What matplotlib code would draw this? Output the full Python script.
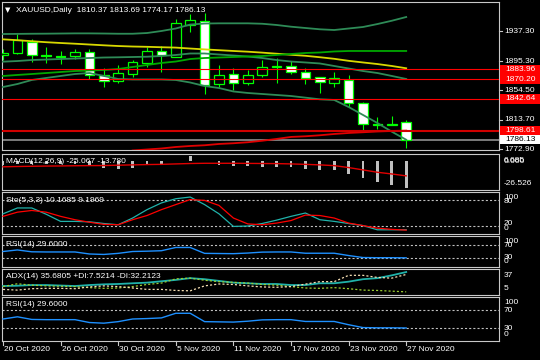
import matplotlib
matplotlib.use("Agg")
import matplotlib.pyplot as plt
from matplotlib.patches import Rectangle
from matplotlib.lines import Line2D
import numpy as np

plt.rcParams['font.family'] = ['Liberation Sans', 'DejaVu Sans']
plt.rcParams['lines.scale_dashes'] = False

W, H = 540, 360
FS = 6

# ---- data (daily XAUUSD, 20 Oct - 27 Nov 2020) ----
date_labels = ["20 Oct 2020", "26 Oct 2020", "30 Oct 2020", "5 Nov 2020",
               "11 Nov 2020", "17 Nov 2020", "23 Nov 2020", "27 Nov 2020"]
date_idx = [0, 4, 8, 12, 16, 20, 24, 28]

opens = [1903.9, 1906.7, 1922.0, 1903.9, 1902.5, 1902.5, 1908.1, 1876.1, 1867.7, 1877.4,
         1892.8, 1909.5, 1901.1, 1945.7, 1951.2, 1863.5, 1877.4, 1864.9, 1876.1, 1887.2,
         1888.6, 1880.2, 1873.3, 1864.9, 1869.1, 1837.1, 1807.8, 1807.0, 1810.37]
highs = [1912.2, 1933.1, 1926.2, 1915.0, 1909.5, 1912.2, 1912.2, 1885.8, 1890.0, 1896.9,
         1915.0, 1916.4, 1954.0, 1961.0, 1962.4, 1890.0, 1885.8, 1883.0, 1896.9, 1899.7,
         1895.5, 1885.8, 1873.5, 1880.2, 1876.1, 1838.5, 1817.2, 1819.0, 1813.69]
lows = [1896.9, 1905.3, 1894.1, 1892.8, 1891.4, 1898.3, 1870.5, 1859.3, 1864.9, 1873.3,
        1887.2, 1880.2, 1901.1, 1935.9, 1849.6, 1859.3, 1855.2, 1862.1, 1873.3, 1864.9,
        1877.4, 1863.5, 1851.0, 1859.3, 1831.5, 1799.5, 1800.4, 1806.4, 1774.17]
closes = [1906.7, 1924.8, 1903.9, 1902.5, 1901.8, 1908.1, 1876.1, 1867.7, 1878.8, 1894.1,
          1909.5, 1903.9, 1948.4, 1952.6, 1862.1, 1876.1, 1864.9, 1876.1, 1887.2, 1888.0,
          1880.2, 1871.9, 1866.3, 1871.9, 1837.1, 1807.8, 1807.0, 1808.0, 1786.13]

bb_upper = [1933.1, 1933.3, 1933.5, 1933.6, 1933.8, 1934.0, 1934.0, 1933.8, 1933.5, 1933.5,
            1934.5, 1937.3, 1940.8, 1946.3, 1947.7, 1948.0, 1948.0, 1948.0, 1947.4, 1945.7,
            1943.3, 1941.5, 1939.7, 1938.7, 1940.8, 1942.9, 1947.0, 1951.6, 1956.8]
bb_mid = [1894.6, 1895.5, 1896.9, 1897.6, 1898.3, 1899.0, 1899.7, 1900.4, 1900.7, 1901.1,
          1901.5, 1902.5, 1903.9, 1906.0, 1906.0, 1904.6, 1903.2, 1901.8, 1899.7, 1896.9,
          1894.8, 1893.5, 1892.1, 1888.6, 1885.1, 1881.6, 1878.8, 1874.7, 1870.5]
bb_lower = [1859.3, 1863.5, 1869.1, 1871.9, 1874.7, 1877.4, 1878.8, 1874.7, 1870.5, 1869.8,
            1869.8, 1869.8, 1869.1, 1865.6, 1860.7, 1857.9, 1853.1, 1851.0, 1849.6, 1848.2,
            1846.8, 1844.5, 1842.2, 1841.3, 1831.5, 1820.4, 1809.2, 1797.1, 1785.9]
ma_green = [1874.7, 1876.1, 1877.4, 1878.8, 1880.2, 1881.6, 1882.3, 1883.0, 1884.4, 1887.2,
            1890.0, 1892.8, 1894.8, 1898.3, 1899.7, 1900.4, 1901.1, 1901.8, 1902.5, 1903.9,
            1905.3, 1906.7, 1907.4, 1908.8, 1909.5, 1909.5, 1909.5, 1909.5, 1909.5]
ma_yellow = [1925.7, 1924.5, 1923.1, 1921.7, 1920.6, 1919.6, 1918.5, 1917.4, 1916.4, 1915.7,
             1915.3, 1914.7, 1914.2, 1912.9, 1911.7, 1910.6, 1909.5, 1908.5, 1907.2, 1905.7,
             1904.2, 1902.8, 1900.8, 1898.6, 1895.8, 1893.5, 1891.3, 1888.6, 1885.4]
ma_red = [np.nan] * 9 + [1770.9, 1772.3, 1773.7, 1775.8, 1777.2, 1778.2, 1780.0, 1781.0,
                         1782.4, 1784.5, 1787.0, 1789.8, 1790.7, 1792.1, 1793.9, 1795.3,
                         1796.3, 1797.4, 1798.1, 1798.6]

hlines_red = [1883.96, 1870.20, 1842.64]
hline_thick = 1798.61
bid = 1786.13
price_ticks = [1937.30, 1895.30, 1854.50, 1813.70, 1772.90]

macd_main = [-3.5, -2.5, -2.5, -2.8, -3.0, -2.8, -4.5, -6.5, -7.4, -6.0, -4.0, -3.6, -0.3,
             5.0, -0.3, -3.3, -4.5, -5.0, -5.2, -5.4, -5.4, -7.4, -8.7, -8.7, -11.8, -15.8,
             -19.6, -22.1, -25.067]
macd_signal = [-5.3, -5.0, -4.8, -4.6, -4.5, -4.3, -4.2, -4.1, -3.8, -3.5, -3.2, -3.0, -2.6,
               -2.2, -2.0, -2.0, -2.0, -2.1, -2.2, -2.3, -2.6, -3.0, -3.5, -4.2, -6.0, -8.2,
               -10.4, -12.0, -13.78]

sto_main = [48, 62, 62, 47, 30, 30, 29, 25, 22, 38, 58, 74, 84, 88, 70, 48, 18, 19, 25, 33,
            42, 50, 34, 30, 25, 20, 10, 10, 10.1685]
sto_signal = [42, 52, 56, 52, 42, 34, 28, 23, 22, 34, 44, 58, 70, 82, 80, 68, 38, 24, 22, 26,
              32, 45, 44, 38, 26, 20, 14, 11, 9.1969]

rsi = [50, 55, 49, 48.5, 48.5, 48.5, 42, 40.5, 44, 50, 51, 52.5, 63, 63, 44, 43.5, 43, 45,
       48, 48.5, 48.5, 44.4, 44.4, 44.4, 37, 30.5, 30, 30, 29.6]

adx = [15.8, 16.2, 17.2, 17.2, 16.5, 15.8, 17.2, 18.2, 18.7, 19.7, 20.6, 22.6, 24.5, 27.0,
       25.5, 23.1, 20.6, 19.7, 18.7, 18.7, 17.2, 17.2, 19.7, 19.7, 22.0, 25.5, 27.0, 31.0, 35.68]
plus_di = [15, 19, 17, 16, 15.5, 15, 13.5, 12.5, 13, 15, 18, 20, 26, 27, 24, 22, 21, 20, 18,
           17, 15, 13, 12.5, 13.5, 12, 10, 9.5, 8.5, 7.52]
minus_di = [11, 10, 12, 12.5, 12.5, 12, 14.5, 16, 15, 13, 11, 11, 9.5, 9, 16, 18.7, 18, 16,
            14.5, 14, 15, 18.5, 22, 22, 31, 31, 28, 27, 32.21]

# ---- layout (pixel boxes: x0, y0, x1, y1 measured from top-left) ----
n = len(closes)
xs = np.arange(n)
XL, XR = (2 - 3) / 14.4, (499 - 3) / 14.4
YB, YT = 1771.6, 1977.7

fig = plt.figure(figsize=(W / 100, H / 100), dpi=100, facecolor='black')


def fx(x):
    return x / W


def fy(y):
    return 1 - y / H


def ftext(x, y, s, color='white', **kw):
    kw.setdefault('va', 'center')
    kw.setdefault('ha', 'left')
    kw.setdefault('fontsize', FS)
    fig.text(fx(x), fy(y), s, color=color, **kw)


def fline(x0, y0, x1, y1, color='#c8c8c8', lw=0.8):
    fig.add_artist(Line2D([fx(x0), fx(x1)], [fy(y0), fy(y1)], color=color, lw=lw,
                          transform=fig.transFigure))


def frect(x0, y0, x1, y1, color):
    fig.add_artist(Rectangle((fx(x0), fy(y1)), (x1 - x0) / W, (y1 - y0) / H,
                             transform=fig.transFigure, facecolor=color, edgecolor='none'))


def panel(x0, y0, x1, y1, ylim):
    ax = fig.add_axes([fx(x0), fy(y1), (x1 - x0) / W, (y1 - y0) / H])
    ax.set_facecolor('black')
    for s in ax.spines.values():
        s.set_color('#c8c8c8')
        s.set_linewidth(0.8)
    ax.set_xticks([])
    ax.set_yticks([])
    ax.set_xlim(XL, XR)
    ax.set_ylim(*ylim)
    return ax


def ypix(box, ylim, v):
    return box[1] + (ylim[1] - v) / (ylim[1] - ylim[0]) * (box[3] - box[1])


# ---- main price panel ----
main_box = (2, 2, 499, 150)
ax = panel(*main_box, (YB, YT))

ax.vlines(xs, lows, highs, color='#00ff00', lw=0.8, zorder=2)
body_bottom = [min(o, c) for o, c in zip(opens, closes)]
body_h = [abs(c - o) for o, c in zip(opens, closes)]
fills = ['black' if c > o else 'white' for o, c in zip(opens, closes)]
ax.bar(xs, body_h, bottom=body_bottom, width=0.66, color=fills, edgecolor='#00ff00',
       linewidth=0.9, zorder=3)

for series in (bb_upper, bb_mid, bb_lower):
    ax.plot(xs, series, color='#2e8b57', lw=1.3, zorder=4)
ax.plot(xs, ma_yellow, color='#d8d800', lw=1.3, zorder=4)
ax.plot(xs, ma_green, color='#00a800', lw=1.3, zorder=4)
ax.plot(xs, ma_red, color='#e00000', lw=1.3, zorder=4)

for v in hlines_red:
    ax.axhline(v, color='#ff0000', lw=0.8, zorder=5)
ax.axhline(hline_thick, color='#d00000', lw=1.5, zorder=5)
ax.axhline(bid, color='#909090', lw=1.2, zorder=1)

ftext(5, 10, "\u25bc", family=['DejaVu Sans'], fontsize=5)
ftext(16, 10, "XAUUSD,Daily  1810.37 1813.69 1774.17 1786.13")

for p in price_ticks:
    y = ypix(main_box, (YB, YT), p)
    fline(499, y, 502, y)
    ftext(504, y, f"{p:.2f}")
for p in hlines_red + [hline_thick]:
    y = ypix(main_box, (YB, YT), p)
    frect(500, y - 4.8, 540, y + 4.8, '#ff0000')
    ftext(505, y, f"{p:.2f}")
y = ypix(main_box, (YB, YT), bid)
frect(500, y - 4.8, 540, y + 4.8, 'white')
ftext(505, y, f"{bid:.2f}", color='black')

# ---- MACD ----
macd_box = (2, 154, 499, 189.5)
axm = panel(*macd_box, (-26.526, 6.685))
axm.bar(xs, macd_main, width=0.2, color='#c0c0c0', zorder=2)
axm.plot(xs, macd_signal, color='#e00000', lw=1.0, zorder=3)
ftext(6, 162, "MACD(12,26,9) -25.067 -13.780")
ftext(504, 161, "6.685")
ftext(504, 161.5, "0.000")
ftext(504, 183.5, "-26.526")

# ---- Stochastic ----
sto_box = (2, 192, 499, 234)
axs = panel(*sto_box, (0, 100))
for lv in (80, 20):
    axs.axhline(lv, color='#c0c0c0', lw=0.8, dashes=(1.5, 1.5))
axs.plot(xs, sto_main, color='#20b2aa', lw=0.9, zorder=3)
axs.plot(xs, sto_signal, color='#ff0000', lw=0.9, zorder=3)
ftext(6, 200, "Sto(5,3,3) 10.1685 9.1969")
ftext(504, 197.5, "100")
ftext(504, 201.5, "80")
ftext(504, 223.5, "20")
ftext(504, 228.5, "0")

# ---- RSI (small) ----
rsi_box = (2, 236, 499, 267)
axr = panel(*rsi_box, (0, 100))
for lv in (70, 30):
    axr.axhline(lv, color='#c0c0c0', lw=0.8, dashes=(1.5, 1.5))
axr.plot(xs, rsi, color='#1e90ff', lw=1.0, zorder=3)
ftext(6, 244.5, "RSI(14) 29.6000")
ftext(504, 241.5, "100")
ftext(504, 245.5, "70")
ftext(504, 257.5, "30")
ftext(504, 261.5, "0")

# ---- ADX ----
adx_box = (2, 269, 499, 294.5)
axa = panel(*adx_box, (3.75, 40.0))
axa.plot(xs, adx, color='#20b2aa', lw=1.3, zorder=3)
axa.plot(xs, plus_di, color='#9acd32', lw=0.9, dashes=(1.5, 1.5), zorder=3)
axa.plot(xs, minus_di, color='#f5deb3', lw=0.9, dashes=(1.5, 1.5), zorder=3)
ftext(6, 277, "ADX(14) 35.6805 +DI:7.5214 -DI:32.2123")
ftext(504, 275.5, "37")
ftext(504, 288.5, "5")

# ---- RSI (large) ----
rsi2_box = (2, 297, 499, 341)
axr2 = panel(*rsi2_box, (0, 100))
for lv in (70, 30):
    axr2.axhline(lv, color='#c0c0c0', lw=0.8, dashes=(1.5, 1.5))
axr2.plot(xs, rsi, color='#1e90ff', lw=1.0, zorder=3)
ftext(6, 304, "RSI(14) 29.6000")
ftext(504, 302.5, "100")
ftext(504, 311, "70")
ftext(504, 328, "30")
ftext(504, 335, "0")

# ---- date axis ----
for i, lab in zip(date_idx, date_labels):
    xp = 3 + 14.4 * i
    fline(xp, 341, xp, 345)
    ftext(max(xp + 1, 2), 349.5, lab)

fig.savefig("out.png", dpi=100, facecolor='black')
